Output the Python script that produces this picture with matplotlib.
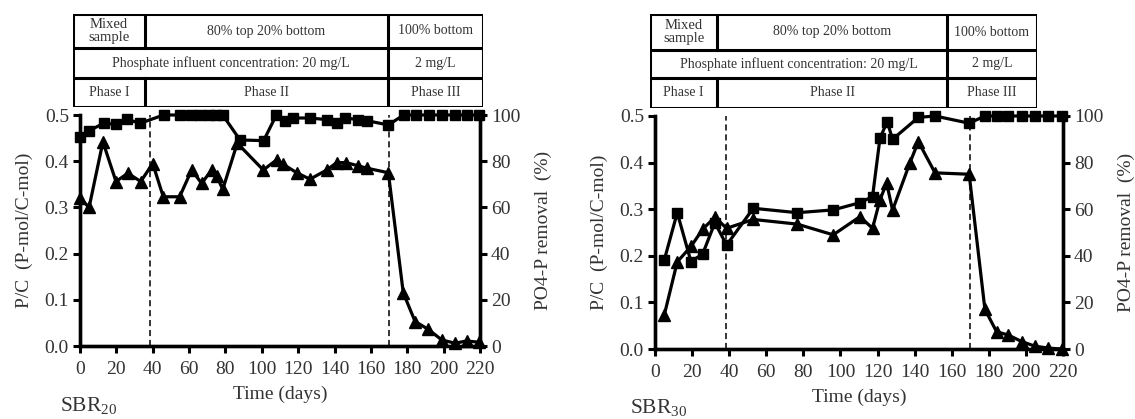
import matplotlib
matplotlib.use("Agg")
import matplotlib.pyplot as plt
import numpy as np

plt.rcParams['font.family'] = ['Liberation Serif', 'DejaVu Serif']
plt.rcParams['mathtext.fontset'] = 'custom'
plt.rcParams['mathtext.rm'] = 'Liberation Serif'
TXT = '#333333'

# ---- SBR20 ----
sbr20_sq_days = [0, 5, 13, 20, 26, 33, 46, 55, 61, 66, 71, 75, 78.5, 88, 101, 108, 113, 117, 126.5, 135.7, 141.5, 146, 153, 158, 169.6, 178, 185, 192, 199, 206, 213, 219.6]
sbr20_sq_removal = [90.6, 93.2, 96.4, 96, 98.1, 96.4, 100, 100, 100, 100, 100, 100, 100, 89.2, 88.9, 100, 97.5, 98.7, 98.7, 98, 96.4, 98.7, 98, 97.5, 95.7, 100, 100, 100, 100, 100, 100, 100]
sbr20_tri_days = [0, 5, 12.6, 19.8, 26.3, 33.4, 40, 45.8, 54.8, 61.4, 66.9, 72.4, 75.2, 78.5, 86.5, 100.8, 108.2, 111.5, 119.2, 126.5, 135.7, 141.2, 146.3, 153, 157.7, 169.6, 177.8, 184.3, 191.6, 199, 206.3, 212.7, 219.6]
sbr20_tri_pc = [0.32, 0.30, 0.442, 0.356, 0.374, 0.356, 0.395, 0.323, 0.323, 0.381, 0.352, 0.381, 0.368, 0.339, 0.439, 0.381, 0.403, 0.394, 0.375, 0.361, 0.381, 0.397, 0.397, 0.39, 0.385, 0.375, 0.115, 0.053, 0.036, 0.013, 0.006, 0.011, 0.008]

# ---- SBR30 ----
sbr30_sq_days = [5, 12, 19.4, 25.7, 32.3, 38.6, 53, 76.7, 96.1, 110.5, 117.3, 121.3, 125.2, 128.1, 142, 151, 169.4, 177.9, 184.2, 190.5, 197.7, 204.9, 212, 219.2]
sbr30_sq_removal = [38.2, 58.5, 37.5, 40.8, 54.2, 44.6, 60.4, 58.5, 59.7, 62.8, 65.4, 90.4, 97.6, 90.0, 99.4, 100, 96.9, 100, 100, 100, 100, 100, 100, 100]
sbr30_tri_days = [5, 12, 19.4, 25.7, 32.3, 38.6, 53, 76.7, 96.1, 110.5, 117.3, 121.3, 124.9, 128.1, 137.5, 142, 151, 169.4, 177.9, 184.2, 190.5, 197.7, 204.9, 212, 219.2]
sbr30_tri_pc = [0.073, 0.187, 0.22, 0.257, 0.283, 0.259, 0.278, 0.268, 0.245, 0.284, 0.259, 0.32, 0.356, 0.298, 0.40, 0.445, 0.378, 0.375, 0.085, 0.037, 0.03, 0.016, 0.006, 0.002, 0.0]

phase_bounds = [38.5, 170]
row1 = ['Mixed\nsample', '80% top 20% bottom', '100% bottom']
row2 = ['Phosphate influent concentration: 20 mg/L', '2 mg/L']
row3 = ['Phase I', 'Phase II', 'Phase III']

W, H = 1135, 419
FS = 14
fig = plt.figure(figsize=(W / 100, H / 100), dpi=100)


def px_rect(x0, y0, x1, y1):
    return [x0 / W, 1 - y1 / H, (x1 - x0) / W, (y1 - y0) / H]


def draw_panel(rect, sq_d, sq_v, tri_d, tri_v):
    ax = fig.add_axes(rect)
    ax2 = ax.twinx()
    ax.plot(tri_d, tri_v, color='black', lw=2.3, marker='^', ms=8, clip_on=False, zorder=3)
    ax2.plot(sq_d, sq_v, color='black', lw=2.3, marker='s', ms=7, clip_on=False, zorder=3)
    for b in phase_bounds:
        ax.plot([b, b], [0, 0.5], color='black', lw=1.1, ls=(0, (4, 2.5)), zorder=1)
    ax.set_xlim(0, 220)
    ax.set_ylim(0, 0.5)
    ax2.set_ylim(0, 100)
    ax.set_xticks(np.arange(0, 221, 20))
    ax.set_yticks(np.arange(0, 0.51, 0.1))
    ax.set_yticklabels(['%.1f' % v for v in np.arange(0, 0.51, 0.1)])
    ax2.set_yticks(np.arange(0, 101, 20))
    for a in (ax, ax2):
        a.spines['top'].set_visible(False)
        for s in ('left', 'right', 'bottom'):
            a.spines[s].set_linewidth(2.4)
        a.tick_params(direction='out', length=5, width=2.2, labelsize=FS, labelcolor=TXT, pad=3)
    ax.tick_params(axis='x', pad=6)
    ax.set_xlabel('Time (days)', fontsize=FS, color=TXT, labelpad=5)
    ax.set_ylabel('P/C  (P-mol/C-mol)', fontsize=FS, color=TXT, labelpad=8)
    ax2.set_ylabel('PO4-P removal  (%)', fontsize=FS, color=TXT, labelpad=10)
    return ax


def draw_table(rect, c1, c2, r1, r2):
    t = fig.add_axes(rect)
    t.set_xlim(0, 1)
    t.set_ylim(0, 1)
    t.axis('off')
    lw = 2.2
    for y in (0, r2, r1, 1):
        t.plot([0, 1], [y, y], color='black', lw=lw, solid_capstyle='projecting')
    t.plot([0, 0], [0, 1], color='black', lw=lw)
    t.plot([1, 1], [0, 1], color='black', lw=lw)
    t.plot([c2, c2], [0, 1], color='black', lw=lw)
    t.plot([c1, c1], [0, r2], color='black', lw=lw)
    t.plot([c1, c1], [r1, 1], color='black', lw=lw)
    kw = dict(ha='center', va='center', fontsize=10, color=TXT)
    ym1, ym2, ym3 = (1 + r1) / 2, (r1 + r2) / 2, r2 / 2
    xs3 = [c1 / 2, (c1 + c2) / 2, (c2 + 1) / 2]
    for i, (x, s) in enumerate(zip(xs3, row1)):
        if i == 0:
            t.text(x, ym1, s, linespacing=1.0, ha='center', va='center', fontsize=10.5, color=TXT)
        else:
            t.text(x, ym1, s, **kw)
    for x, s in zip([c2 / 2, (c2 + 1) / 2], row2):
        t.text(x, ym2, s, **kw)
    for x, s in zip(xs3, row3):
        t.text(x, ym3, s, **kw)


draw_panel(px_rect(80, 115, 480, 346), sbr20_sq_days, sbr20_sq_removal,
           sbr20_tri_days, sbr20_tri_pc)
draw_table(px_rect(73, 14, 483, 107), (145 - 73) / 410, (388 - 73) / 410,
           (107 - 48) / 93, (107 - 78) / 93)
fig.text(60 / W, 8 / H, r'SBR$_{\mathrm{20}}$', fontsize=15.5, color=TXT, va='baseline')

draw_panel(px_rect(655, 116, 1063, 349), sbr30_sq_days, sbr30_sq_removal,
           sbr30_tri_days, sbr30_tri_pc)
draw_table(px_rect(650, 14, 1037, 108), (717 - 650) / 387, (947 - 650) / 387,
           (108 - 50) / 94, (108 - 78) / 94)
fig.text(630 / W, 6 / H, r'SBR$_{\mathrm{30}}$', fontsize=15.5, color=TXT, va='baseline')

fig.savefig('out.png', dpi=100, facecolor='white')
